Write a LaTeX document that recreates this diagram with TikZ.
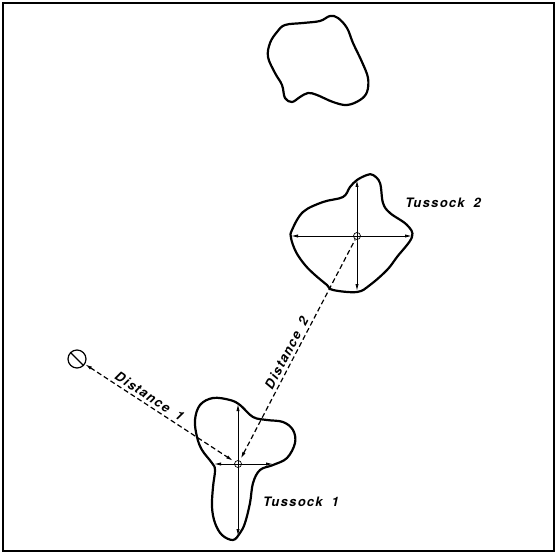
\documentclass[tikz,border=0pt]{standalone}
\usepackage{fontspec}
\newfontfamily\tagfont[LetterSpace=10,WordSpace=1.8]{TeX Gyre Heros}
\usetikzlibrary{arrows.meta}

\begin{document}
\begin{tikzpicture}[x=1pt,y=-1pt,
  outline/.style={line width=2.2pt,line join=round},
  axis/.style={line width=0.8pt,-{Latex[length=7pt,width=3.2pt]}},
  gap/.style={line width=1.2pt,dash pattern=on 5pt off 3pt},
  hub/.style={circle,draw,line width=0.7pt,inner sep=0pt,minimum size=7pt},
  tag/.style={font=\tagfont\fontsize{13}{15}\selectfont\bfseries\itshape,inner sep=1pt}]
\useasboundingbox (0,0) rectangle (556,553);
% frame:
\draw[line width=1.6pt] (3,3) rectangle (554,551);
% tussock outlines:
\draw[outline] plot[smooth cycle,tension=0.6] coordinates {(285,25) (303,23) (320,21) (330,16) (338,18) (347,28) (353,43) (362,62) (368,78) (367,92) (360,100) (347,105) (333,102) (317,95) (308,93) (300,97) (292,102) (285,98) (282,85) (275,73) (268,57) (270,43) (277,32)};
\draw[outline] plot[smooth cycle,tension=0.6] coordinates {(357,180) (367,175) (373,175) (380,183) (383,203) (390,213) (407,225) (412,237) (397,257) (387,270) (370,285) (357,292) (333,290) (327,285) (315,275) (305,265) (296,252) (291,238) (292,230) (303,212) (323,202) (343,197) (350,187)};
\draw[outline] plot[smooth cycle,tension=0.6] coordinates {(200,405) (213,398) (230,400) (240,405) (253,417) (267,420) (283,422) (293,430) (295,443) (287,458) (273,465) (260,470) (253,483) (250,503) (245,523) (240,533) (233,540) (222,535) (215,523) (212,507) (213,487) (215,470) (212,463) (202,450) (197,437) (195,420)};
% centres and marker:
\node[hub] (c1) at (238,464) {};
\node[hub] (c2) at (357,236) {};
\node[circle,draw,line width=1.2pt,minimum size=18pt,inner sep=0pt] (m) at (77,359) {};
\draw[line width=1.2pt] (m.135) -- (m.-45);
% cross arrows:
\coordinate (c1n) at (238,404);
\coordinate (c1s) at (238,536);
\coordinate (c1w) at (214,464);
\coordinate (c1e) at (273,464);
\coordinate (c2n) at (357,180);
\coordinate (c2s) at (357,291);
\coordinate (c2w) at (291,236);
\coordinate (c2e) at (412,236);
\foreach \c in {c1,c2}
  \foreach \d in {n,s,w,e}
    \draw[axis] (\c.center) -- (\c\d);
% distances:
\draw[gap,{Latex[length=7pt,width=3.5pt]}-{Latex[length=7pt,width=3.5pt]},shorten >=2pt]
  (m) -- node[tag,sloped,above=2pt,pos=0.4] {Distance 1} (c1);
\draw[gap,{Latex[length=7pt,width=3.5pt]}-,shorten <=2pt]
  (c1) -- node[tag,sloped,above=2pt,pos=0.47] {Distance 2} (c2);
% labels:
\node[tag] (t1) at (301,502) {Tussock 1};
\node[tag] (t2) at (443,203) {Tussock 2};
\end{tikzpicture}
\end{document}
